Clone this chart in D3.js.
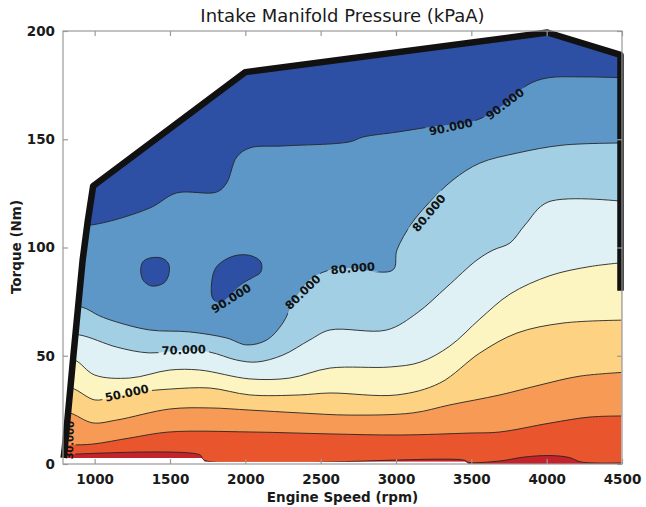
<!DOCTYPE html>
<html><head><meta charset="utf-8">
<script src="https://cdn.jsdelivr.net/npm/d3@7"></script>
<style>body{margin:0;background:#fff} svg{display:block}</style>
</head><body><svg id="c" width="646" height="507"></svg>
<script>
// ---------- data (engine speed rpm, torque Nm) ----------
const xTicks = [1000,1500,2000,2500,3000,3500,4000,4500];
const yTicks = [0,50,100,150,200];
const levels = [20,30,40,50,60,70,80,90];
// outer limit of the mapped region (thick black outline part + bottom)
const edgeOutline = [[794,2.8],[800,6],[859,50],[920,94],[954,112],[990,128.4],[2000,181],[4005,199.3],[4490,189],[4490,80]];
const edgeBottom = [[4495,80],[4495,0],[3480,0],[3460,1],[1730,1],[1710,2.8]];
const contour20 = [[760,4.2],[1700,4.2],[1725,1.8],[3450,1.8],[3480,0.8],[3690,1.4],[3850,3.2],[4022,3.9],[4150,3],[4230,0.9],[4550,0.6]];
const contour30 = [[760,8.8],[834,8.8],[987,9.2],[1232,12],[1498,14.8],[2030,14.8],[2561,13.9],[3026,13.4],[3491,14.3],[3690,14.8],[4022,18.9],[4288,21.7],[4550,22.2]];
const contour40 = [[760,23.6],[834,23.6],[987,19],[1146,20.3],[1498,25.4],[1764,25.9],[2030,24.9],[2361,23.6],[2693,22.6],[3112,23.6],[3358,27.3],[3690,31.9],[3956,36.5],[4222,40.6],[4550,42.5]];
const contour50 = [[760,35.1],[847,35.1],[1000,29.6],[1100,30.5],[1299,33.3],[1498,34.6],[1764,35.1],[2030,31.9],[2361,31.9],[2561,32.8],[3006,31.9],[3291,37.4],[3557,51.3],[3803,60.5],[4109,65.1],[4550,66.5]];
const contour60 = [[760,48],[867,48],[1000,41.1],[1232,39.7],[1498,43.4],[1697,43.4],[2030,39.3],[2295,39.7],[2561,44.3],[2959,44.8],[3159,47],[3358,54.5],[3557,67],[3757,78.5],[4022,87],[4288,91.2],[4550,93.3]];
const contour70 = [[760,59.6],[900,59.6],[1146,54],[1365,51.3],[1598,52.7],[1764,51.7],[1943,48],[2076,47.1],[2249,50.3],[2428,57.3],[2561,61.9],[2939,61.9],[3139,69.7],[3338,81.8],[3537,94.2],[3644,98.8],[3757,102.1],[3856,110.4],[4009,121],[4550,121]];
const contour80 = [[760,72.5],[914,72.5],[1033,68.4],[1146,65.6],[1365,61.9],[1631,61],[1876,58.2],[2009,55],[2143,57.3],[2249,65.1],[2315,74.4],[2395,82.7],[2475,87.3],[2627,90.5],[2979,89.6],[3006,98.8],[3106,111.3],[3205,119.6],[3378,131.2],[3557,139],[3803,143.6],[4109,147.3],[4550,148.3]];
const contour90 = [[760,110.4],[980,110.4],[1365,118.2],[1544,125.2],[1810,125.6],[1876,129.8],[1943,141.8],[2030,146],[2249,146.9],[2693,148.8],[2780,151],[3006,153.3],[3225,155.7],[3537,158.9],[3723,166.3],[3870,175],[4002,178.3],[4242,178.8],[4550,178.3]];
const island90a = [[1319,93.3],[1365,95.1],[1445,95.1],[1491,92.4],[1491,87.3],[1459,83.6],[1379,82.2],[1326,84.5],[1306,88.7]];
const island90b = [[1863,94.2],[1950,96.5],[2043,96.1],[2103,93.3],[2103,88.7],[2043,85.9],[1963,82.5],[1910,78.5],[1829,74.5],[1784,76.5],[1777,84.1],[1803,90.5]];
const contours = [contour20,contour30,contour40,contour50,contour60,contour70,contour80,contour90];
const islands = [island90a, island90b];
const labelText   = ["50.000","70.000","90.000","80.000","80.000","80.000","90.000","90.000","30.000"];
const labelRpm    = [1213,1591,1905,2381,2713,3218,3364,3723,835];
const labelTorque = [32.8,52.7,76.5,79.4,90.5,115.9,155.7,166.3,11];
const labelAngle  = [-12,-2,-32,-44,-5,-50,-12,-37,-88];

// ---------- styles ----------
const bandColors = ["#c4232b","#e9552d","#f79a55","#fdd383","#fdf5c1","#e0f1f6","#a2cfe4","#5d97c8","#2e50a4"];
const W = 646, H = 507;
const svg = d3.select("#c");
const x = d3.scaleLinear().domain([790,4500]).range([63,622]);
const y = d3.scaleLinear().domain([0,200]).range([464,31]);
const curve = d3.curveCatmullRom.alpha(0.5);
const lineGen = d3.line().x(d=>x(d[0])).y(d=>y(d[1])).curve(curve);
const linLine = d3.line().x(d=>x(d[0])).y(d=>y(d[1]));

const defs = svg.append("defs");
const envelope = edgeOutline.concat(edgeBottom);
defs.append("clipPath").attr("id","env").append("path").attr("d", linLine(envelope)+"Z");

const fills = svg.append("g").attr("clip-path","url(#env)");
fills.append("path").attr("d", linLine(envelope)+"Z").attr("fill", bandColors[0]);
contours.forEach((c,i)=>{
  const d = lineGen(c) + `L${x(4600)},${y(260)}L${x(700)},${y(260)}Z`;
  fills.append("path").attr("d", d).attr("fill", bandColors[i+1]);
});
const closedGen = d3.line().x(d=>x(d[0])).y(d=>y(d[1])).curve(d3.curveCatmullRomClosed.alpha(0.5));
islands.forEach(isl=>{
  fills.append("path").attr("d", closedGen(isl)).attr("fill", bandColors[8]);
});

// labels (measure first)
const lblG = svg.append("g");
const lblInfo = [];
labelText.forEach((t,i)=>{
  const cx = x(labelRpm[i]), cy = y(labelTorque[i]);
  const fs = i===8 ? 10 : 11.5;
  const tx = lblG.append("text").text(t)
    .attr("transform",`translate(${cx},${cy}) rotate(${labelAngle[i]})`)
    .attr("text-anchor","middle").attr("dy","0.36em")
    .attr("font-family","DejaVu Sans").attr("font-weight","bold").attr("font-size",fs)
    .attr("fill","#111");
  lblInfo.push({cx,cy,a:labelAngle[i],w:tx.node().getComputedTextLength()});
});

const mask = defs.append("mask").attr("id","lblmask").attr("maskUnits","userSpaceOnUse")
  .attr("x",0).attr("y",0).attr("width",W).attr("height",H);
mask.append("rect").attr("width",W).attr("height",H).attr("fill","white");
lblInfo.forEach(l=>{
  mask.append("rect").attr("x",-l.w/2-3).attr("y",-6).attr("width",l.w+6).attr("height",12)
    .attr("transform",`translate(${l.cx},${l.cy}) rotate(${l.a})`).attr("fill","black");
});

const linesOuter = svg.insert("g", () => lblG.node()).attr("clip-path","url(#env)");
const linesG = linesOuter.append("g").attr("mask","url(#lblmask)");
contours.forEach(c=>{
  linesG.append("path").attr("d", lineGen(c)).attr("fill","none").attr("stroke","#262626").attr("stroke-width",0.9);
});
islands.forEach(isl=>{
  linesG.append("path").attr("d", closedGen(isl)).attr("fill","none").attr("stroke","#262626").attr("stroke-width",0.9);
});

// thick outline
svg.append("path").attr("d", linLine(edgeOutline)).attr("fill","none")
  .attr("stroke","#111").attr("stroke-width",6.5).attr("stroke-linejoin","round");

// frame + axes
const frameCol = "#9a9a9a";
svg.append("rect").attr("x",63).attr("y",31).attr("width",559).attr("height",433)
  .attr("fill","none").attr("stroke",frameCol).attr("stroke-width",1.2);

function styleAxis(g, showLabels){
  g.select(".domain").remove();
  g.selectAll(".tick line").attr("stroke",frameCol).attr("stroke-width",1.2);
  g.selectAll(".tick text").attr("font-family","DejaVu Sans").attr("font-weight","bold")
    .attr("font-size",13.5).attr("fill","#1a1a1a");
  if(!showLabels) g.selectAll(".tick text").remove();
}
const gb = svg.append("g").attr("transform","translate(0,464)")
  .call(d3.axisBottom(x).tickValues(xTicks).tickSize(-5).tickPadding(10).tickFormat(d3.format("d")));
styleAxis(gb,true);
gb.selectAll(".tick text").attr("dy","0.71em");
const gt = svg.append("g").attr("transform","translate(0,31)")
  .call(d3.axisTop(x).tickValues(xTicks).tickSize(-5));
styleAxis(gt,false);
const gl = svg.append("g").attr("transform","translate(63,0)")
  .call(d3.axisLeft(y).tickValues(yTicks).tickSize(-5).tickPadding(8).tickFormat(d3.format("d")));
styleAxis(gl,true);
const gr = svg.append("g").attr("transform","translate(622,0)")
  .call(d3.axisRight(y).tickValues(yTicks).tickSize(-5));
styleAxis(gr,false);

// titles
svg.append("text").text("Intake Manifold Pressure (kPaA)")
  .attr("x",342.5).attr("y",22).attr("text-anchor","middle")
  .attr("font-family","DejaVu Sans").attr("font-size",18).attr("fill","#1a1a1a");
svg.append("text").text("Engine Speed (rpm)")
  .attr("x",342.5).attr("y",502).attr("text-anchor","middle")
  .attr("font-family","DejaVu Sans").attr("font-weight","bold").attr("font-size",13.5).attr("fill","#1a1a1a");
svg.append("text").text("Torque (Nm)")
  .attr("transform","translate(21,247) rotate(-90)").attr("text-anchor","middle")
  .attr("font-family","DejaVu Sans").attr("font-weight","bold").attr("font-size",13.5).attr("fill","#1a1a1a");
</script></body></html>
